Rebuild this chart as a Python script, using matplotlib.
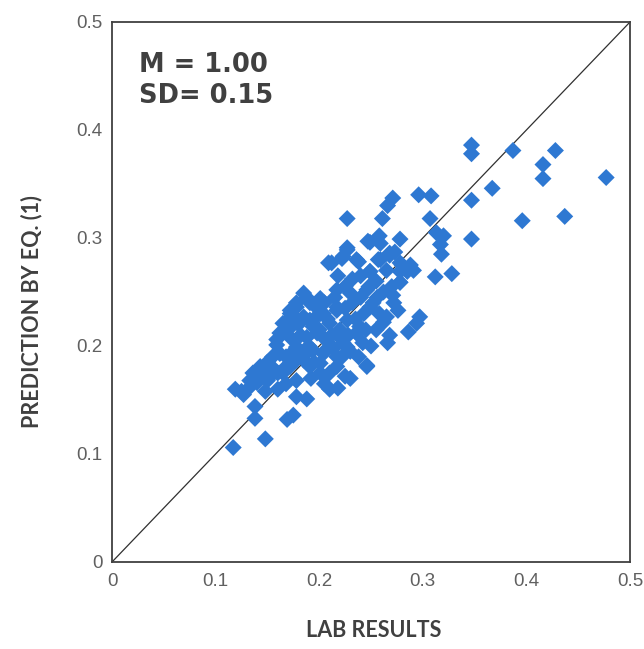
import matplotlib
matplotlib.use("Agg")
import matplotlib.pyplot as plt

lab_results = [
    0.347, 0.347, 0.387, 0.428, 0.416, 0.416, 0.477, 0.367, 0.347, 0.296,
    0.308, 0.271, 0.266, 0.396, 0.437, 0.227, 0.261, 0.307, 0.347, 0.313,
    0.320, 0.317, 0.318, 0.278, 0.258, 0.247, 0.259, 0.227, 0.223, 0.238,
    0.257, 0.268, 0.273, 0.278, 0.288, 0.291, 0.278, 0.249, 0.312, 0.328,
    0.278, 0.212,
    0.117, 0.148, 0.138, 0.138, 0.169, 0.175, 0.119, 0.127, 0.218, 0.188,
    0.178, 0.140, 0.136, 0.150, 0.159, 0.167, 0.172, 0.178, 0.162, 0.178,
    0.191, 0.204, 0.223, 0.236, 0.246, 0.198, 0.191, 0.204, 0.217, 0.191,
    0.210, 0.178, 0.152, 0.165, 0.143, 0.133,
    0.209, 0.222, 0.227, 0.236, 0.249, 0.259, 0.268, 0.249, 0.280, 0.285,
    0.278, 0.185, 0.201, 0.217, 0.230, 0.246, 0.256, 0.271, 0.249, 0.265,
    0.276, 0.297, 0.294, 0.286, 0.266, 0.246, 0.172, 0.165, 0.185, 0.201,
    0.217, 0.194, 0.210, 0.227, 0.239, 0.236, 0.220, 0.204, 0.188, 0.172,
    0.159, 0.162, 0.178, 0.194, 0.210, 0.227, 0.242, 0.185, 0.201, 0.217,
    0.217, 0.201, 0.172, 0.165,
    0.145, 0.150, 0.155, 0.160, 0.155, 0.168, 0.175, 0.170, 0.180, 0.182,
    0.190, 0.195, 0.200, 0.205, 0.208, 0.212, 0.215, 0.220, 0.225, 0.228,
    0.232, 0.235, 0.240, 0.243, 0.248, 0.252, 0.255, 0.258, 0.262, 0.265,
    0.270, 0.272, 0.232, 0.225, 0.218, 0.240, 0.198, 0.188, 0.178, 0.175,
    0.186, 0.195, 0.205, 0.214, 0.222, 0.230, 0.238, 0.250, 0.255, 0.245,
    0.262, 0.268, 0.125, 0.133, 0.148, 0.160, 0.168, 0.192, 0.205, 0.225,
    0.210, 0.230,
]
prediction = [
    0.386, 0.378, 0.381, 0.381, 0.368, 0.355, 0.356, 0.346, 0.335, 0.340,
    0.339, 0.337, 0.330, 0.316, 0.320, 0.318, 0.318, 0.318, 0.299, 0.305,
    0.302, 0.294, 0.285, 0.299, 0.302, 0.297, 0.295, 0.291, 0.283, 0.278,
    0.280, 0.284, 0.287, 0.277, 0.275, 0.270, 0.269, 0.269, 0.264, 0.267,
    0.259, 0.277,
    0.106, 0.114, 0.144, 0.133, 0.132, 0.136, 0.160, 0.155, 0.161, 0.151,
    0.153, 0.166, 0.175, 0.185, 0.201, 0.221, 0.230, 0.236, 0.212, 0.187,
    0.181, 0.193, 0.203, 0.212, 0.181, 0.212, 0.224, 0.230, 0.236, 0.240,
    0.175, 0.168, 0.171, 0.178, 0.181, 0.168,
    0.277, 0.281, 0.289, 0.280, 0.296, 0.280, 0.286, 0.269, 0.275, 0.269,
    0.259, 0.249, 0.244, 0.252, 0.249, 0.252, 0.245, 0.247, 0.236, 0.227,
    0.233, 0.227, 0.221, 0.213, 0.203, 0.182, 0.233, 0.221, 0.227, 0.230,
    0.233, 0.218, 0.221, 0.224, 0.218, 0.212, 0.208, 0.208, 0.208, 0.208,
    0.206, 0.193, 0.199, 0.196, 0.199, 0.199, 0.203, 0.187, 0.184, 0.190,
    0.181, 0.175, 0.181, 0.175,
    0.175, 0.168, 0.180, 0.175, 0.190, 0.190, 0.195, 0.215, 0.220, 0.210,
    0.200, 0.225, 0.215, 0.240, 0.225, 0.210, 0.245, 0.215, 0.235, 0.210,
    0.240, 0.225, 0.245, 0.230, 0.255, 0.240, 0.260, 0.230, 0.250, 0.270,
    0.255, 0.240, 0.262, 0.255, 0.265, 0.265, 0.235, 0.245, 0.240, 0.228,
    0.192, 0.185, 0.195, 0.198, 0.190, 0.195, 0.190, 0.200, 0.215, 0.215,
    0.222, 0.210, 0.158, 0.162, 0.158, 0.160, 0.165, 0.170, 0.165, 0.172,
    0.160, 0.170,
]
ticks = [0, 0.1, 0.2, 0.3, 0.4, 0.5]
tick_labels = ["0", "0.1", "0.2", "0.3", "0.4", "0.5"]
annotation = "M = 1.00\nSD= 0.15"

fig = plt.figure(figsize=(6.44, 6.49), dpi=100)
ax = fig.add_axes([112/644, 1-562/649, 518/644, 540/649])

ax.plot([0, 0.5], [0, 0.5], color="#303030", lw=0.9, zorder=1)
ax.scatter(lab_results, prediction, marker="D", s=75, color="#2E78D2",
           edgecolors="none", zorder=2)

ax.set_xlim(0, 0.5)
ax.set_ylim(0, 0.5)
ax.set_xticks(ticks)
ax.set_yticks(ticks)
ax.set_xticklabels(tick_labels)
ax.set_yticklabels(tick_labels)
ax.tick_params(length=0, labelsize=13.5, labelcolor="#606060")
ax.tick_params(axis="x", pad=8)
ax.tick_params(axis="y", pad=7)
for lab in ax.get_xticklabels() + ax.get_yticklabels():
    lab.set_fontfamily("Liberation Sans")
for sp in ax.spines.values():
    sp.set_color("#404040")
    sp.set_linewidth(1.3)

ax.set_xlabel("LAB RESULTS", fontsize=15.5, fontweight="bold", color="#404040",
              family="Lato")
ax.set_ylabel("PREDICTION BY EQ. (1)", fontsize=15.5, fontweight="bold",
              color="#404040", family="Lato")
ax.xaxis.set_label_coords(0.505, -0.108)
ax.yaxis.set_label_coords(-0.135, 0.463)

ax.text(0.052, 0.945, annotation, transform=ax.transAxes, fontsize=18.5,
        fontweight="bold", color="#404040", family="DejaVu Sans",
        va="top", ha="left", linespacing=1.25)

fig.savefig("out.png", dpi=100)
